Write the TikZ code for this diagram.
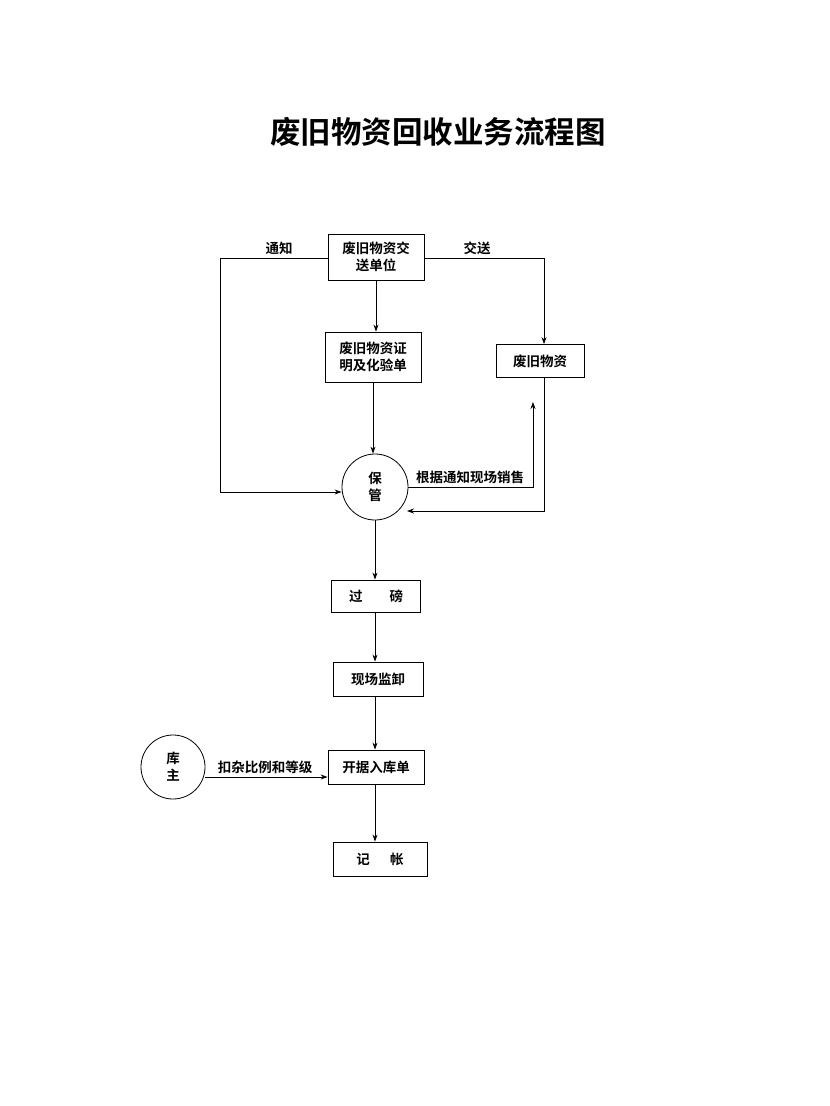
\documentclass[tikz,border=0pt]{standalone}
\usepackage{fontspec}
\newfontfamily\cjk{Noto Sans CJK SC}[BoldFont={Noto Sans CJK SC Bold}]
\usetikzlibrary{arrows.meta}
\begin{document}
\begin{tikzpicture}[x=1pt,y=-1pt,
  box/.style={draw,thick,inner sep=0pt,align=center,font=\cjk\bfseries\fontsize{13.5}{17}\selectfont},
  circ/.style={draw,thick,circle,inner sep=0pt,align=center,font=\cjk\bfseries\fontsize{13.5}{17}\selectfont},
  lab/.style={font=\cjk\bfseries\fontsize{13.5}{16}\selectfont,inner sep=1pt},
  arr/.style={thick,-{Stealth[length=7pt,width=5pt]}}]
\useasboundingbox (0,0) rectangle (830,1106);
\node[font=\cjk\bfseries\fontsize{30.5}{33}\selectfont] (title) at (438,132) {废旧物资回收业务流程图};
\node[box,minimum width=96pt,minimum height=46pt] (A) at (376,257) {废旧物资交\\送单位};
\node[box,minimum width=96pt,minimum height=50pt] (B) at (373,357) {废旧物资证\\明及化验单};
\node[box,minimum width=88pt,minimum height=33pt] (C) at (540,361) {废旧物资};
\node[circ,minimum size=66pt] (P) at (375,487) {保\\管};
\node[box,minimum width=89pt,minimum height=32pt] (D) at (376,596) {过\hspace{2em}磅};
\node[box,minimum width=90pt,minimum height=34pt] (E) at (378,679) {现场监卸};
\node[box,minimum width=96pt,minimum height=34pt] (F) at (376,767) {开据入库单};
\node[box,minimum width=94pt,minimum height=34pt] (G) at (380,859) {记\hspace{1.5em}帐};
\node[circ,minimum size=64pt] (K) at (173,767) {库\\主};
\coordinate (a1) at (220,258);
\coordinate (a2) at (220,492);
\coordinate (c1) at (544,258);
\coordinate (s1) at (533,487);
\coordinate (s2) at (533,402);
\coordinate (r1) at (544,511);
\coordinate (r2) at (407,511);
\draw[arr] (A.west |- a1) -- (a1) -- (a2) -- (P.west |- a2);
\node[lab] (l1) at (279,248) {通知};
\draw[arr] (A.east |- c1) -- (c1) -- (C.north -| c1);
\node[lab] (l2) at (477,248) {交送};
\draw[arr] (A.south) -- (B.north -| A.south);
\draw[arr] (B.south) -- (P.north -| B.south);
\draw[arr] (P.east |- s1) -- (s1) -- (s2);
\node[lab,anchor=south] (l3) at (470,485) {根据通知现场销售};
\draw[arr] (C.south -| r1) -- (r1) -- (r2);
\draw[arr] (P.south) -- (D.north -| P.south);
\draw[arr] (D.south -| P.south) -- (E.north -| P.south);
\draw[arr] (E.south -| P.south) -- (F.north -| P.south);
\draw[arr] (F.south -| P.south) -- (G.north -| P.south);
\draw[arr] (K.east |- 0,777) -- (F.west |- 0,777);
\node[lab] (l4) at (265,767) {扣杂比例和等级};
\end{tikzpicture}
\end{document}
